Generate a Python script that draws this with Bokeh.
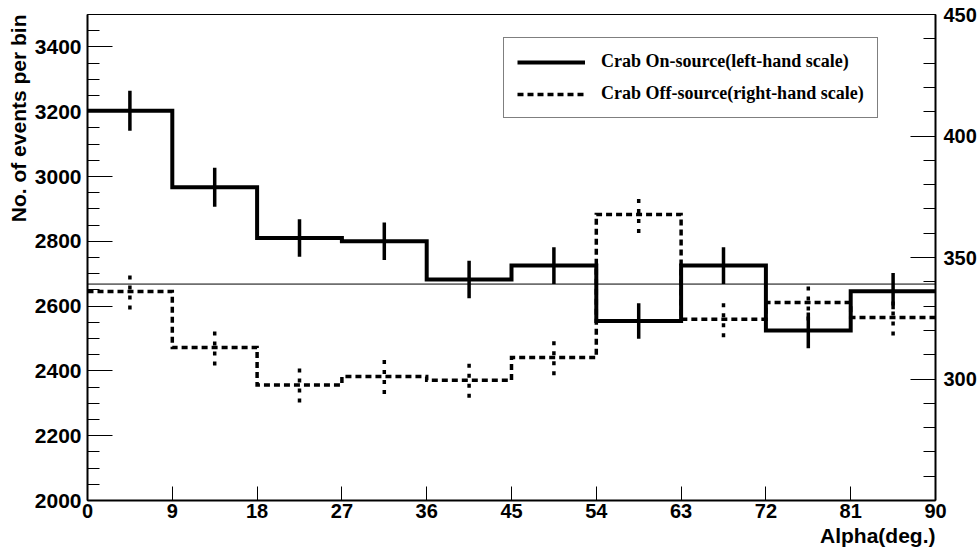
from bokeh.plotting import figure
from bokeh.models import (Range1d, LinearAxis, SingleIntervalTicker, FixedTicker,
                          Span, Legend, LegendItem, Title)
from bokeh.embed import file_html
from bokeh.resources import INLINE

# ---------------- data ----------------
bin_edges = [0, 9, 18, 27, 36, 45, 54, 63, 72, 81, 90]
on_counts = [3203, 2967, 2810, 2800, 2682, 2725, 2554, 2725, 2525, 2646]
on_errors = [62, 60, 58, 58, 58, 57, 55, 57, 55, 56]
off_counts = [336, 313, 297.5, 301, 299.5, 308.8, 367.7, 324.6, 331.5, 325.3]
off_errors = [7.4, 7.4, 7.2, 7.2, 7.2, 7.3, 7.6, 7.4, 7.4, 7.4]
on_level = 2668
on_label = "Crab On-source(left-hand scale)"
off_label = "Crab Off-source(right-hand scale)"
x_title = "Alpha(deg.)"
y_title = "No. of events per bin"

centers = [(a + b) / 2 for a, b in zip(bin_edges[:-1], bin_edges[1:])]

SANS = "Liberation Sans"
SERIF = "Liberation Serif"

p = figure(width=979, height=552, output_backend="svg", toolbar_location=None,
           x_range=Range1d(0, 90), y_range=Range1d(2000, 3500),
           min_border_left=87, min_border_right=44, min_border_top=14,
           min_border_bottom=52)
p.extra_y_ranges = {"right": Range1d(250, 450)}
p.xgrid.visible = False
p.ygrid.visible = False
p.outline_line_color = "black"
p.outline_line_width = 1
p.background_fill_color = "white"
p.border_fill_color = "white"


def style_axis(ax, size):
    ax.major_tick_out = 0
    ax.minor_tick_out = 0
    ax.axis_line_width = 2
    ax.axis_line_color = "black"
    ax.major_tick_line_color = "black"
    ax.minor_tick_line_color = "black"
    ax.major_label_text_font = SANS
    ax.major_label_text_font_style = "bold"
    ax.major_label_text_font_size = size
    ax.major_label_text_color = "black"


# x axis
xa = p.xaxis[0]
style_axis(xa, "20px")
xa.ticker = SingleIntervalTicker(interval=9, num_minor_ticks=0)
xa.major_tick_in = 14
xa.minor_tick_in = 0
xa.major_label_standoff = 3

# left axis
ya = p.yaxis[0]
style_axis(ya, "21px")
ya.ticker = SingleIntervalTicker(interval=200, num_minor_ticks=4)
ya.major_tick_in = 25
ya.minor_tick_in = 12
ya.major_label_standoff = 6

# right axis
ra = LinearAxis(y_range_name="right",
                ticker=FixedTicker(ticks=[300, 350, 400, 450],
                                   minor_ticks=list(range(250, 451, 10))))
style_axis(ra, "20px")
ra.major_tick_in = 25
ra.minor_tick_in = 12
ra.major_label_standoff = 8
p.add_layout(ra, "right")

# axis titles (right / top aligned as in the original)
p.add_layout(Title(text=y_title, align="right", text_font=SANS,
                   text_font_style="bold", text_font_size="21px",
                   text_color="black", standoff=3, offset=0), "left")
p.add_layout(Title(text=x_title, align="right", text_font=SANS,
                   text_font_style="bold", text_font_size="21px",
                   text_color="black", standoff=3, offset=0), "below")

# reference level
p.add_layout(Span(location=on_level, dimension="width", line_color="black",
                  line_width=1))

# on-source histogram
r_on = p.step(x=bin_edges, y=on_counts + [on_counts[-1]], mode="after",
              line_color="black", line_width=4, line_join="miter")
p.segment(x0=centers, y0=[v - e for v, e in zip(on_counts, on_errors)],
          x1=centers, y1=[v + e for v, e in zip(on_counts, on_errors)],
          line_color="black", line_width=3.5)

# off-source histogram (right scale)
r_off = p.step(x=bin_edges, y=off_counts + [off_counts[-1]], mode="after",
               y_range_name="right", line_color="black", line_width=3.5,
               line_dash="6 4", line_join="miter")
p.segment(x0=centers, y0=[v - e for v, e in zip(off_counts, off_errors)],
          x1=centers, y1=[v + e for v, e in zip(off_counts, off_errors)],
          y_range_name="right", line_color="black", line_width=3.5,
          line_dash="4 6")

legend = Legend(items=[LegendItem(label=on_label, renderers=[r_on]),
                       LegendItem(label=off_label, renderers=[r_off])],
                location=(416, 382), orientation="vertical",
                label_text_font=SERIF, label_text_font_style="bold",
                label_text_font_size="18px", label_text_color="black",
                glyph_width=68, glyph_height=18, label_height=18,
                label_standoff=16, padding=13, spacing=11, margin=0,
                border_line_color="black", border_line_width=1.5,
                background_fill_color="white", background_fill_alpha=1)
p.add_layout(legend, "center")

open("out.html", "w").write(file_html(p, INLINE))
